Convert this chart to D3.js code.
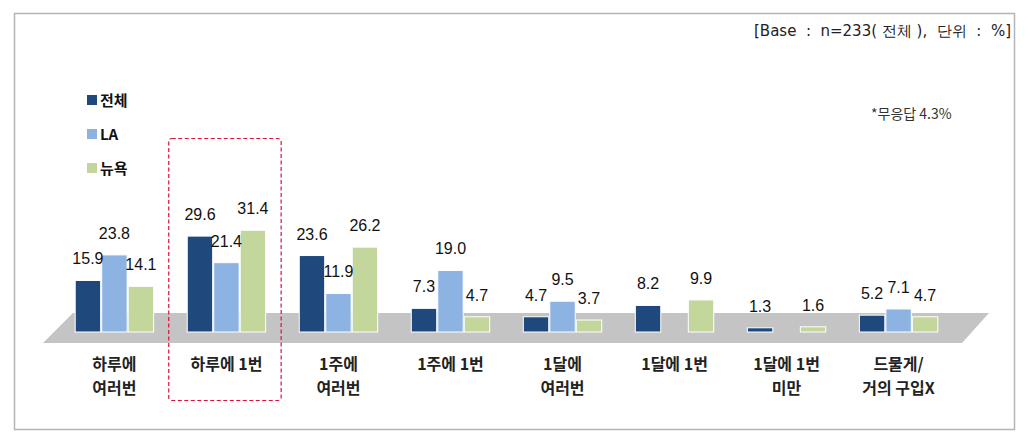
<!DOCTYPE html>
<html>
<head>
<meta charset="utf-8">
<script src="https://cdn.jsdelivr.net/npm/d3@7"></script>
<style>
  body { margin: 0; background: #fff; }
  svg { display: block; }
</style>
</head>
<body>
<div id="chart"></div>
<script>
var svgWidth = 1036;
var svgHeight = 441;

// data
var categories = ["하루에|여러번", "하루에 1번", "1주에|여러번", "1주에 1번", "1달에|여러번", "1달에 1번", "1달에 1번|미만", "드물게/|거의 구입X"];
var seriesNames = ["전체", "LA", "뉴욕"];
var totalValues = [15.9, 29.6, 23.6, 7.3, 4.7, 8.2, 1.3, 5.2];
var laValues = [23.8, 21.4, 11.9, 19.0, 9.5, null, null, 7.1];
var nyValues = [14.1, 31.4, 26.2, 4.7, 3.7, 9.9, 1.6, 4.7];
var highlighted = "하루에 1번";

var colors = ["#1f497d", "#8db3e2", "#c3d69b"];
var allSeries = [totalValues, laValues, nyValues];

var baseline = 332;

var svg = d3.select("#chart")
  .append("svg")
  .attr("width", svgWidth)
  .attr("height", svgHeight);

// outer frame
svg.append("rect")
  .attr("x", 14.5).attr("y", 13.5)
  .attr("width", 1000).attr("height", 416)
  .attr("fill", "none")
  .attr("stroke", "#b4b4b4")
  .attr("stroke-width", 1.5);

// gray floor under the bars
svg.append("polygon")
  .attr("points", "73,313 989,313 962,343 43,343")
  .attr("fill", "#c4c4c4");

// scales
var x0 = d3.scaleBand()
  .domain(categories)
  .range([36, 977])
  .paddingInner(0.3)
  .paddingOuter(0.35);

var x1 = d3.scaleBand()
  .domain(seriesNames)
  .range([0, x0.bandwidth()])
  .paddingInner(0.04);

var y = d3.scaleLinear()
  .domain([0, 10])
  .range([baseline, baseline - 32.4]);

// highlight box
svg.append("rect")
  .attr("x", x0(highlighted) - 18.5)
  .attr("y", 138.5)
  .attr("width", x0.bandwidth() + 34)
  .attr("height", 262)
  .attr("rx", 3)
  .attr("fill", "none")
  .attr("stroke", "#d9143c")
  .attr("stroke-width", 1.2)
  .attr("stroke-dasharray", "4,2.5");

// bars
var groups = svg.selectAll(".grp")
  .data(categories)
  .enter()
  .append("g")
  .attr("class", "grp")
  .attr("transform", d => `translate(${x0(d)},0)`);

groups.each(function(cat, i) {
  var g = d3.select(this);
  var rows = seriesNames.map((s, k) => ({ s: s, v: allSeries[k][i], c: colors[k] }))
    .filter(r => r.v !== null);

  g.selectAll("rect")
    .data(rows)
    .enter()
    .append("rect")
    .attr("x", r => x1(r.s))
    .attr("y", r => y(r.v))
    .attr("width", x1.bandwidth())
    .attr("height", r => baseline - y(r.v))
    .attr("fill", r => r.c)
    .attr("stroke", "#fff")
    .attr("stroke-width", 1);

  g.selectAll("text.val")
    .data(rows)
    .enter()
    .append("text")
    .attr("class", "val")
    .attr("x", r => x1(r.s) + x1.bandwidth() / 2)
    .attr("y", r => y(r.v) - 16)
    .attr("text-anchor", "middle")
    .style("font-family", "'Liberation Sans', Arial, sans-serif")
    .style("font-size", "16px")
    .style("fill", "#111")
    .text(r => r.v.toFixed(1));
});

// category labels
var catText = svg.selectAll(".cat")
  .data(categories)
  .enter()
  .append("text")
  .attr("class", "cat")
  .attr("x", d => x0(d) + x0.bandwidth() / 2)
  .attr("y", 370)
  .attr("text-anchor", "middle")
  .style("font-family", "'Noto Sans CJK KR', sans-serif")
  .style("font-weight", "bold")
  .style("font-size", "16px")
  .style("fill", "#222");

catText.each(function(d) {
  var lines = d.split("|");
  var t = d3.select(this);
  lines.forEach(function(line, k) {
    t.append("tspan")
      .attr("x", t.attr("x"))
      .attr("dy", k === 0 ? 0 : 24)
      .text(line);
  });
});

// legend
var legend = svg.selectAll(".leg")
  .data(seriesNames)
  .enter()
  .append("g")
  .attr("class", "leg")
  .attr("transform", (d, i) => `translate(87, ${100 + i * 34})`);

legend.append("rect")
  .attr("x", 0).attr("y", -5)
  .attr("width", 10).attr("height", 10)
  .attr("fill", (d, i) => colors[i]);

legend.append("text")
  .attr("x", 13)
  .attr("y", 5.5)
  .style("font-family", "'Noto Sans CJK KR', sans-serif")
  .style("font-weight", "bold")
  .style("font-size", "15px")
  .style("fill", "#111")
  .text(d => d);

// notes
svg.append("text")
  .attr("x", 1011)
  .attr("y", 36)
  .attr("text-anchor", "end")
  .style("white-space", "pre")
  .style("font-family", "'DejaVu Sans', sans-serif")
  .style("font-size", "15px")
  .style("fill", "#222")
  .text("[Base  :  n=233( 전체 ),  단위  :  %]");

svg.append("text")
  .attr("x", 871)
  .attr("y", 119)
  .style("font-family", "'Noto Sans CJK KR', sans-serif")
  .style("font-size", "14px")
  .style("fill", "#333")
  .text("*무응답 4.3%");
</script>
</body>
</html>
